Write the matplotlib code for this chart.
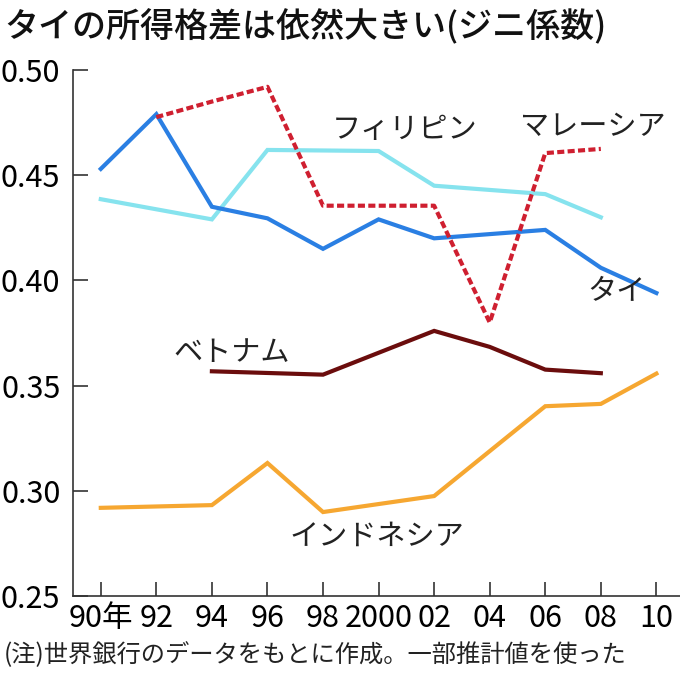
import numpy as np
import matplotlib
matplotlib.use('Agg')
import matplotlib.pyplot as plt

plt.rcParams['font.family'] = ['Noto Sans CJK JP', 'DejaVu Sans']

# Gini coefficients
thai_years = [1990, 1992, 1994, 1996, 1998, 2000, 2002, 2006, 2008, 2010]
thai_vals = [0.453, 0.479, 0.435, 0.4295, 0.415, 0.429, 0.420, 0.424, 0.406, 0.394]

phil_years = [1990, 1994, 1996, 2000, 2002, 2006, 2008]
phil_vals = [0.4386, 0.429, 0.462, 0.4615, 0.445, 0.441, 0.430]

mala_years = [1992, 1994, 1996, 1998, 2002, 2004, 2006, 2008]
mala_vals = [0.4776, 0.485, 0.492, 0.4355, 0.4355, 0.380, 0.4605, 0.4625]

viet_years = [1994, 1998, 2002, 2004, 2006, 2008]
viet_vals = [0.3568, 0.3552, 0.376, 0.3684, 0.3576, 0.3559]

indo_years = [1990, 1994, 1996, 1998, 2002, 2006, 2008, 2010]
indo_vals = [0.2919, 0.2932, 0.3132, 0.2899, 0.2975, 0.3402, 0.3413, 0.3557]

tick_years = [1990, 1992, 1994, 1996, 1998, 2000, 2002, 2004, 2006, 2008, 2010]
tick_labels = ['90年', '92', '94', '96', '98', '2000', '02', '04', '06', '08', '10']
y_ticks = [0.25, 0.30, 0.35, 0.40, 0.45, 0.50]

fig = plt.figure(figsize=(6.8, 6.77), dpi=100)
ax = fig.add_axes([73/680, 1 - 596/677, (680 - 73)/680, (596 - 70)/677])

lw = 3.0
ax.plot(phil_years, phil_vals, color='#86e3ee', lw=lw, solid_joinstyle='miter')
ax.plot(indo_years, indo_vals, color='#f6a731', lw=lw, solid_joinstyle='miter')
ax.plot(viet_years, viet_vals, color='#6b0d0d', lw=lw, solid_joinstyle='miter')
ax.plot(thai_years, thai_vals, color='#2a7fe3', lw=lw, solid_joinstyle='miter')
ax.plot(mala_years, mala_vals, color='#cf1f30', lw=lw, dashes=(1.7, 0.8))

ax.set_xlim(1989.0, 2010.85)
ax.set_ylim(0.25, 0.50)
ax.set_xticks(tick_years)
ax.set_xticklabels(tick_labels)
ax.set_yticks(y_ticks)
ax.set_yticklabels(['%.2f' % v for v in y_ticks])

for s in ['top', 'right']:
    ax.spines[s].set_visible(False)
for s in ['left', 'bottom']:
    ax.spines[s].set_color('#333333')
    ax.spines[s].set_linewidth(1.2)
ax.tick_params(axis='x', direction='in', length=10, width=1.2, color='#333333',
               labelsize=22, pad=5)
ax.tick_params(axis='y', direction='in', length=11, width=1.2, color='#333333',
               labelsize=22, pad=9)

lab_kw = dict(fontsize=21, color='#222222')
ax.text(1998.3, 0.4675, 'フィリピン', **lab_kw)
ax.text(2005.1, 0.469, 'マレーシア', **lab_kw)
ax.text(2007.5, 0.3905, 'タイ', **lab_kw)
ax.text(1992.6, 0.3615, 'ベトナム', **lab_kw)
ax.text(1996.8, 0.2745, 'インドネシア', **lab_kw)

fig.text(0.006, 0.960, 'タイの所得格差は依然大きい(ジニ係数)', fontsize=24.5,
         fontweight='medium', va='center', color='#111111')
fig.text(0.006, 0.032, '(注)世界銀行のデータをもとに作成。一部推計値を使った',
         fontsize=17.5, va='center', color='#222222')

fig.savefig('out.png', dpi=100)
